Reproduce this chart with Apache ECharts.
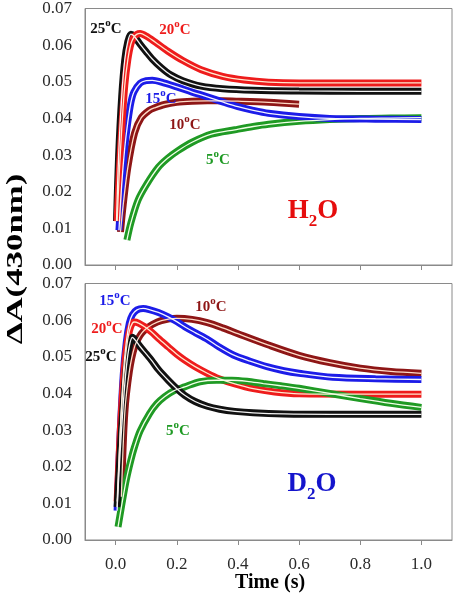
<!DOCTYPE html>
<html>
<head>
<meta charset="utf-8">
<script src="https://cdn.jsdelivr.net/npm/echarts@6/dist/echarts.min.js"></script>
<style>html,body{margin:0;padding:0;background:#fff;}#c{width:453px;height:600px;}</style>
</head>
<body>
<div id="c"></div>
<script>
// ---- tick labels ----
const xTicks = [0.0, 0.2, 0.4, 0.6, 0.8, 1.0];
const yTicks = [0.00, 0.01, 0.02, 0.03, 0.04, 0.05, 0.06, 0.07];
const temps = ['25', '20', '15', '10', '5'];

// ---- H2O panel (time s, ΔA) ----
const h2o_t25 = [0.003,0.01,0.02,0.03,0.04,0.05,0.06,0.08,0.1,0.12,0.15,0.18,0.22,0.28,0.35,0.45,0.6,0.8,1.0];
const h2o_v25 = [0.012,0.030,0.046,0.056,0.061,0.063,0.0625,0.0603,0.0582,0.0562,0.0538,0.0519,0.0503,0.0488,0.0481,0.0477,0.0475,0.0474,0.0474];
const h2o_t20 = [0.005,0.012,0.02,0.03,0.04,0.05,0.06,0.07,0.08,0.1,0.13,0.17,0.22,0.28,0.35,0.42,0.5,0.6,0.8,1.0];
const h2o_v20 = [0.012,0.025,0.037,0.049,0.056,0.0603,0.0622,0.063,0.0632,0.0625,0.0608,0.0584,0.0558,0.0533,0.0515,0.0505,0.0499,0.0497,0.0497,0.0497];
const h2o_t15 = [0.011,0.02,0.03,0.04,0.05,0.06,0.08,0.1,0.12,0.15,0.2,0.25,0.3,0.35,0.4,0.45,0.5,0.6,0.7,0.85,1.0];
const h2o_v15 = [0.0095,0.022,0.032,0.039,0.0443,0.0472,0.0496,0.0503,0.0504,0.0499,0.0486,0.0472,0.0459,0.0445,0.0432,0.0422,0.0414,0.0405,0.0400,0.0398,0.0397];
const h2o_t10 = [0.016,0.025,0.04,0.062,0.084,0.11,0.128,0.16,0.2,0.25,0.3,0.35,0.4,0.5,0.6];
const h2o_v10 = [0.009,0.0165,0.0266,0.036,0.0402,0.0422,0.0429,0.0438,0.0444,0.0447,0.0448,0.0448,0.0447,0.0444,0.0439];
const h2o_t5 = [0.037,0.05,0.073,0.1,0.139,0.17,0.204,0.25,0.313,0.39,0.45,0.5,0.6,0.7,0.8,0.9,1.0];
const h2o_v5 = [0.0068,0.0115,0.0176,0.0218,0.0266,0.0291,0.0312,0.0335,0.0357,0.0369,0.0378,0.0384,0.0392,0.0397,0.0400,0.0401,0.0402];

// ---- D2O panel ----
const d2o_t25 = [0.005,0.015,0.025,0.035,0.045,0.055,0.065,0.08,0.1,0.117,0.14,0.172,0.2,0.226,0.26,0.3,0.34,0.39,0.45,0.55,0.7,1.0];
const d2o_v25 = [0.009,0.024,0.037,0.047,0.053,0.0553,0.0545,0.0528,0.0508,0.0491,0.0465,0.0436,0.0413,0.0395,0.0378,0.0365,0.0357,0.0351,0.0347,0.0344,0.0343,0.0343];
const d2o_t20 = [0.005,0.015,0.025,0.035,0.045,0.055,0.062,0.075,0.095,0.117,0.14,0.172,0.2,0.226,0.26,0.3,0.336,0.39,0.45,0.52,0.6,0.8,1.0];
const d2o_v20 = [0.0105,0.029,0.043,0.052,0.057,0.0592,0.0595,0.0592,0.0582,0.0568,0.055,0.0527,0.0507,0.0491,0.0473,0.0455,0.0441,0.0426,0.0413,0.0404,0.0399,0.0398,0.0398];
const d2o_t15 = [0.005,0.015,0.025,0.035,0.045,0.055,0.07,0.09,0.11,0.14,0.172,0.2,0.226,0.26,0.3,0.336,0.385,0.44,0.495,0.55,0.6,0.71,0.85,1.0];
const d2o_v15 = [0.008,0.029,0.045,0.054,0.0592,0.0615,0.0628,0.0632,0.0629,0.0621,0.0609,0.0596,0.0582,0.0566,0.0548,0.0528,0.0505,0.0488,0.0473,0.0462,0.0455,0.0444,0.0440,0.0438];
const d2o_t10 = [0.019,0.03,0.045,0.062,0.08,0.095,0.12,0.15,0.2,0.25,0.3,0.35,0.4,0.5,0.6,0.7,0.8,0.9,1.0];
const d2o_v10 = [0.0118,0.0345,0.046,0.0527,0.0558,0.0573,0.0588,0.0599,0.0605,0.0602,0.0593,0.0579,0.0563,0.0532,0.0504,0.0484,0.0469,0.0460,0.0455];
const d2o_t5 = [0.008,0.02,0.035,0.05,0.062,0.08,0.111,0.135,0.16,0.19,0.226,0.276,0.33,0.38,0.43,0.483,0.54,0.6,0.7,0.8,0.9,1.0];
const d2o_v5 = [0.0036,0.0095,0.0164,0.0218,0.0254,0.0297,0.0345,0.0372,0.0391,0.0407,0.0418,0.0432,0.0436,0.0436,0.0433,0.0427,0.0421,0.0414,0.0400,0.0386,0.0373,0.0362];

// ---- styling ----
const COLORS = {'25':'#111111','20':'#ee1c1c','15':'#1c1ce8','10':'#8e1616','5':'#1f9a24'};
const FITC = {'25':'#f4f4f4','20':'#ffe9cf','15':'#f4f4ff','10':'#ffdcc8','5':'#f2ffe8'};
const FONT = "'Liberation Serif','Times New Roman',serif";

const panels = [
  {name:'H2O', t:{'25':h2o_t25,'20':h2o_t20,'15':h2o_t15,'10':h2o_t10,'5':h2o_t5}, v:{'25':h2o_v25,'20':h2o_v20,'15':h2o_v15,'10':h2o_v10,'5':h2o_v5}, order:['5','10','15','25','20']},
  {name:'D2O', t:{'25':d2o_t25,'20':d2o_t20,'15':d2o_t15,'10':d2o_t10,'5':d2o_t5}, v:{'25':d2o_v25,'20':d2o_v20,'15':d2o_v15,'10':d2o_v10,'5':d2o_v5}, order:['10','15','20','5','25']}
];

const series = [];
panels.forEach((p, gi) => {
  p.order.forEach(k => {
    const data = p.t[k].map((t, i) => [t, p.v[k][i]]);
    series.push({type:'line', xAxisIndex:gi, yAxisIndex:gi, data, symbol:'none', smooth:0.3,
      lineStyle:{color:COLORS[k], width:7}, z:2, silent:true, animation:false});
    series.push({type:'line', xAxisIndex:gi, yAxisIndex:gi, data, symbol:'none', smooth:0.3,
      lineStyle:{color:FITC[k], width:1.3}, z:3, silent:true, animation:false});
  });
});

const axisColor = '#8a8a8a';
function xAx(gi, showLabel){
  return {type:'value', gridIndex:gi, min:-0.1, max:1.1,
    axisLine:{show:true, onZero:false, lineStyle:{color:axisColor, width:1}},
    axisTick:{show:true, customValues:xTicks, length:5, inside:false, lineStyle:{color:axisColor}},
    axisLabel:{show:showLabel, customValues:xTicks, formatter:v=>v.toFixed(1), margin:16, fontSize:17, color:'#2a2a2a', fontFamily:FONT},
    splitLine:{show:false}};
}
function yAx(gi){
  return {type:'value', gridIndex:gi, min:0, max:0.07, interval:0.01,
    axisLine:{show:true, onZero:false, lineStyle:{color:axisColor, width:1}},
    axisTick:{show:false},
    axisLabel:{margin:13, fontSize:17, color:'#2a2a2a', fontFamily:FONT, formatter:v=>v.toFixed(2)},
    splitLine:{show:false}};
}

function tempLabel(k, x, y){
  return {type:'text', x, y, z:10, style:{
    text:'{n|'+k+'}{s|o}{n|C}', fill:COLORS[k], align:'center', verticalAlign:'middle',
    rich:{n:{fontSize:15, fontWeight:'bold', fontFamily:FONT, fill:COLORS[k], lineHeight:19, verticalAlign:'bottom'},
          s:{fontSize:11, fontWeight:'bold', fontFamily:FONT, fill:COLORS[k], lineHeight:11, verticalAlign:'top'}}}};
}
function solventLabel(a, color, x, y){
  return {type:'text', x, y, z:10, style:{
    text:'{n|'+a+'}{s|2}{n|O}', fill:color, align:'center', verticalAlign:'middle',
    rich:{n:{fontSize:27, fontWeight:'bold', fontFamily:FONT, fill:color, lineHeight:26, verticalAlign:'top'},
          s:{fontSize:17, fontWeight:'bold', fontFamily:FONT, fill:color, lineHeight:17, verticalAlign:'bottom', padding:[0,0,-6,0]}}}};
}

const chart = echarts.init(document.getElementById('c'), null, {renderer:'canvas'});
chart.setOption({
  backgroundColor:'#ffffff',
  animation:false,
  grid:[
    {left:85, top:6.5, width:367, height:258.5, show:true, borderColor:axisColor, borderWidth:1, containLabel:false},
    {left:85, top:283.5, width:367, height:256.5, show:true, borderColor:axisColor, borderWidth:1, containLabel:false}
  ],
  xAxis:[xAx(0,false), xAx(1,true)],
  yAxis:[yAx(0), yAx(1)],
  series,
  graphic:[
    {type:'text', x:16, y:259, rotation:Math.PI/2, scaleX:1.45, z:10, style:{text:'ΔA(430nm)', font:"bold 24px "+FONT, fill:'#000', align:'center', verticalAlign:'middle'}},
    {type:'text', x:270, y:583, z:10, style:{text:'Time (s)', font:"bold 20px "+FONT, fill:'#000', align:'center', verticalAlign:'middle'}},
    tempLabel('25',106,27), tempLabel('20',175,28), tempLabel('15',161,97), tempLabel('10',185,123), tempLabel('5',218,158),
    tempLabel('15',115,299), tempLabel('10',211,305), tempLabel('20',107,327), tempLabel('25',101,355), tempLabel('5',178,429),
    solventLabel('H','#e60d0d',313,211),
    solventLabel('D','#1414cc',312,484)
  ]
});
</script>
</body>
</html>
